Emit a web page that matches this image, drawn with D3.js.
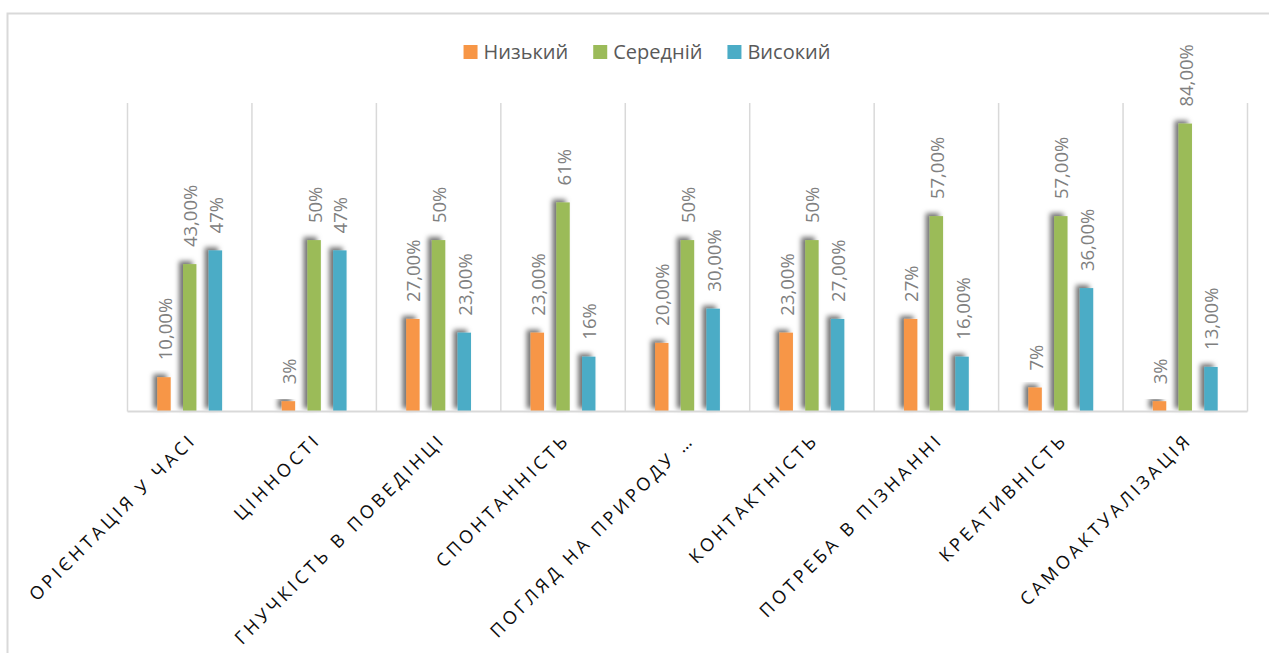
<!DOCTYPE html>
<html>
<head>
<meta charset="utf-8">
<script src="https://cdn.jsdelivr.net/npm/d3@7"></script>
<style>
  body { margin: 0; background: #fff; }
  svg { display: block; }
</style>
</head>
<body>
<div id="graphique"></div>
<script>
// donnees
var categories = ["ОРІЄНТАЦІЯ У ЧАСІ", "ЦІННОСТІ", "ГНУЧКІСТЬ В ПОВЕДІНЦІ", "СПОНТАННІСТЬ",
                  "ПОГЛЯД НА ПРИРОДУ …", "КОНТАКТНІСТЬ", "ПОТРЕБА В ПІЗНАННІ", "КРЕАТИВНІСТЬ", "САМОАКТУАЛІЗАЦІЯ"];
var series = ["Низький", "Середній", "Високий"];
var couleurs = ["#F79646", "#9BBB59", "#4BACC6"];

var nizkiy   = [10, 3, 27, 23, 20, 23, 27, 7, 3];
var seredniy = [43, 50, 50, 61, 50, 50, 57, 57, 84];
var visokiy  = [47, 47, 23, 16, 30, 27, 16, 36, 13];

var etiquettesNizkiy   = ["10,00%", "3%", "27,00%", "23,00%", "20,00%", "23,00%", "27%", "7%", "3%"];
var etiquettesSeredniy = ["43,00%", "50%", "50%", "61%", "50%", "50%", "57,00%", "57,00%", "84,00%"];
var etiquettesVisokiy  = ["47%", "47%", "23,00%", "16%", "30,00%", "27,00%", "16,00%", "36,00%", "13,00%"];

var valeurs = [nizkiy, seredniy, visokiy];
var etiquettes = [etiquettesNizkiy, etiquettesSeredniy, etiquettesVisokiy];

var largeur = 1269, hauteur = 653;
var gauche = 127.5, droite = 1247.5, haut = 103, bas = 411.5;

var svg = d3.select("#graphique").append("svg").attr("width", largeur).attr("height", hauteur);

// ombre des barres (vers le haut a gauche)
var defs = svg.append("defs");
defs.append("filter").attr("id", "ombre")
    .attr("x", "-100%").attr("y", "-20%").attr("width", "300%").attr("height", "140%")
    .append("feDropShadow")
    .attr("dx", -4).attr("dy", -3).attr("stdDeviation", 2.5)
    .attr("flood-color", "#000").attr("flood-opacity", 0.55);

// cadre du graphique
svg.append("rect")
   .attr("x", 7.5).attr("y", 13.5).attr("width", 1400).attr("height", 800)
   .style("fill", "none").style("stroke", "#d9d9d9").style("stroke-width", 2);

var x0 = d3.scaleBand().domain(categories).range([gauche, droite]).paddingInner(0).paddingOuter(0);
var x1 = d3.scaleBand().domain(series).range([0, x0.bandwidth()]).paddingInner(0.479).paddingOuter(1.16);
var y = d3.scaleLinear().domain([0, 90]).range([bas, haut]);

// lignes verticales entre categories
var bords = categories.map(function(c) { return x0(c); });
bords.push(droite);
svg.append("g").selectAll("line").data(bords).enter().append("line")
   .attr("x1", function(d) { return d; }).attr("x2", function(d) { return d; })
   .attr("y1", haut).attr("y2", bas)
   .style("stroke", "#d9d9d9").style("stroke-width", 1.5);

// barres
for (var s = 0; s < series.length; s++) {
    var g = svg.append("g");
    g.selectAll("rect").data(valeurs[s]).enter().append("rect")
       .attr("x", function(d, i) { return x0(categories[i]) + x1(series[s]); })
       .attr("y", function(d) { return y(d); })
       .attr("width", x1.bandwidth())
       .attr("height", function(d) { return bas - y(d); })
       .style("fill", couleurs[s])
       .attr("filter", "url(#ombre)");

    g.selectAll("text").data(valeurs[s]).enter().append("text")
       .attr("transform", function(d, i) {
           var cx = x0(categories[i]) + x1(series[s]) + x1.bandwidth() / 2 + 7.5;
           return "translate(" + cx + "," + (y(d) - 17) + ") rotate(-90)";
       })
       .style("font-family", "'Open Sans', sans-serif")
       .style("font-size", "18.5px")
       .style("fill", "#808080")
       .text(function(d, i) { return etiquettes[s][i]; });
}

// axe horizontal
svg.append("line")
   .attr("x1", gauche).attr("x2", droite).attr("y1", bas).attr("y2", bas)
   .style("stroke", "#d9d9d9").style("stroke-width", 2);

// etiquettes des categories
svg.append("g").selectAll("text").data(categories).enter().append("text")
   .attr("transform", function(d) {
       return "translate(" + (x0(d) + x0.bandwidth() / 2 + 8) + "," + 441 + ") rotate(-45)";
   })
   .attr("text-anchor", "end")
   .style("font-family", "'Open Sans', sans-serif")
   .style("font-size", "18px")
   .style("letter-spacing", "3.6px")
   .style("fill", "#0d0d0d")
   .text(function(d) { return d; });

// legende
var legende = svg.append("g");
var pos = 0;
for (var k = 0; k < series.length; k++) {
    var it = legende.append("g");
    it.append("rect").attr("x", 0).attr("y", 45).attr("width", 14).attr("height", 14).style("fill", couleurs[k]);
    var t = it.append("text").attr("x", 20).attr("y", 59)
       .style("font-family", "'Open Sans', sans-serif")
       .style("font-size", "20px")
       .style("fill", "#595959")
       .text(series[k]);
    it.attr("transform", "translate(" + pos + ",0)");
    pos += 20 + t.node().getComputedTextLength() + 25;
}
var total = pos - 25;
legende.attr("transform", "translate(" + (647 - total / 2) + ",0)");
</script>
</body>
</html>
